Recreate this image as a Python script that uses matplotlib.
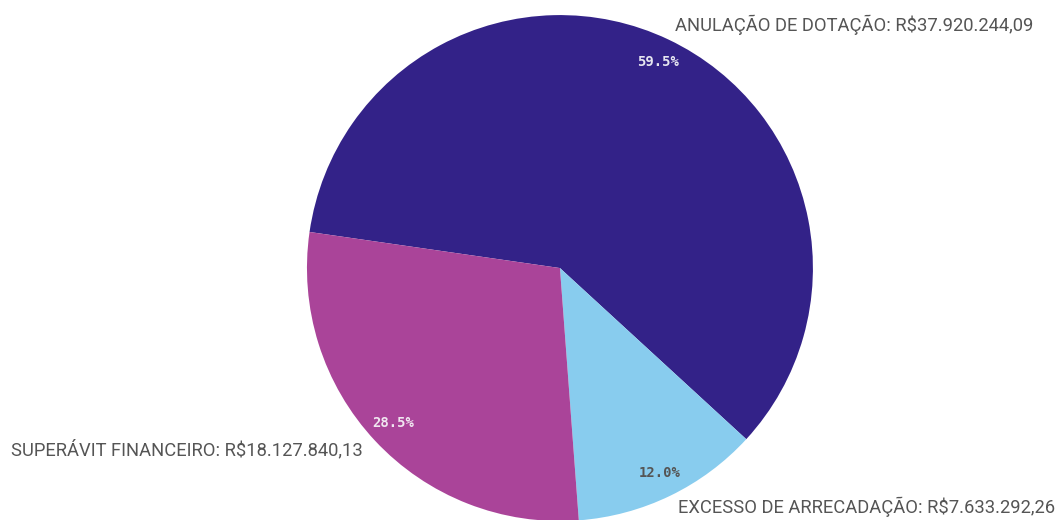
import matplotlib.pyplot as plt

categories = ['ANULAÇÃO DE DOTAÇÃO', 'EXCESSO DE ARRECADAÇÃO', 'SUPERÁVIT FINANCEIRO']
values = [37920244.09, 7633292.26, 18127840.13]
value_labels = ['R$37.920.244,09', 'R$7.633.292,26', 'R$18.127.840,13']

colors = ['#332288', '#88ccee', '#aa4499']
pct_colors = ['#e6e6f0', '#555555', '#f0e6f0']
# label anchors in pie units (radius = 1)
label_pos = [(0.455, 0.96, 'left'), (0.466, -0.945, 'left'), (-0.779, -0.719, 'right')]


def fmt_pct(p):
    return '%.1f%%' % p


def main():
    fig = plt.figure(figsize=(10.57, 5.2), dpi=100, facecolor='white')
    ax = fig.add_axes([0.2904, -0.002, 0.4787, 0.973])
    wedges, texts, autotexts = ax.pie(values, colors=colors, startangle=171.8,
                                      counterclock=False, autopct=fmt_pct,
                                      pctdistance=0.9, radius=1.0,
                                      wedgeprops=dict(linewidth=0))
    for t, c in zip(autotexts, pct_colors):
        t.set_color(c)
        t.set_fontsize(10)
        t.set_fontweight('bold')
        t.set_family('DejaVu Sans Mono')
    for cat, val, (x, y, ha) in zip(categories, value_labels, label_pos):
        ax.text(x, y, '%s: %s' % (cat, val), ha=ha, va='center',
                fontsize=13.2, color='#555555', family='Roboto', clip_on=False)
    ax.set_xlim(-1, 1)
    ax.set_ylim(-1, 1)
    ax.set_aspect('equal')
    ax.axis('off')
    fig.savefig('out.png', dpi=100, facecolor='white')


if __name__ == '__main__':
    main()
